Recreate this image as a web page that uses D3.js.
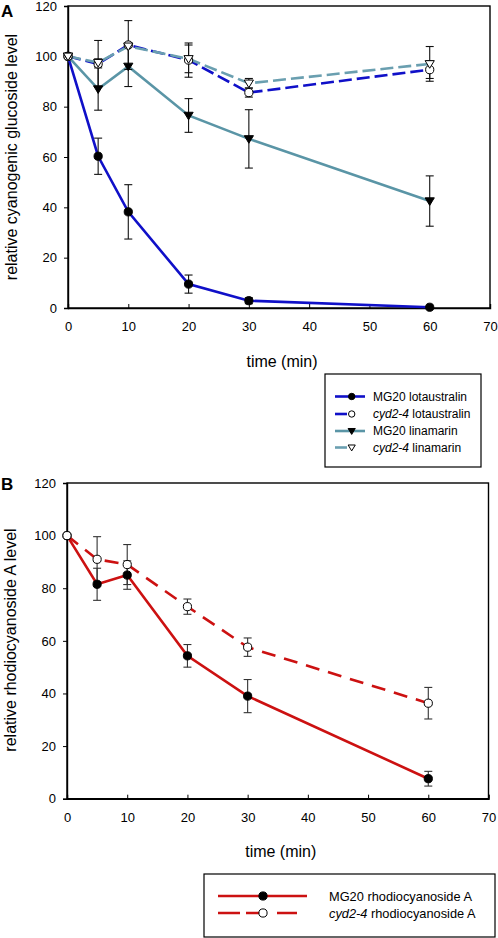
<!DOCTYPE html>
<html><head><meta charset="utf-8">
<script src="https://cdn.jsdelivr.net/npm/d3@7"></script>
<style>body{margin:0;background:#fff}svg{display:block;font-family:"Liberation Sans",Arial,sans-serif}</style>
</head><body>
<svg id="c" width="498" height="938"></svg>
<script>
// ---------- data ----------
const times = [0, 5, 10, 20, 30, 60];
const xTicks = [0, 10, 20, 30, 40, 50, 60, 70];
const yTicks = [0, 20, 40, 60, 80, 100, 120];

const mg20Lotaustralin     = [100, 60.3, 38.2, 9.5, 2.9, 0.3];
const mg20LotaustralinErr  = [0, 7.2, 10.8, 3.6, 1.2, 0];
const cydLotaustralin      = [100, 97, 104.5, 98.5, 85.6, 94.7];
const cydLotaustralinErr   = [0, 9.3, 9.7, 6.8, 1.8, 3.5];
const mg20Linamarin        = [100, 87, 96, 76.5, 67.2, 42.5];
const mg20LinamarinErr     = [0, 8.4, 8, 6.7, 11.6, 10];
const cydLinamarin         = [100, 97.5, 104, 99, 89.3, 97];
const cydLinamarinErr      = [0, 1.5, 0, 5.5, 1.9, 6.9];

const mg20Rhodio    = [100, 81.5, 85, 54.3, 39, 7.6];
const mg20RhodioErr = [0, 6.1, 5.4, 4.3, 6.3, 2.8];
const cydRhodio     = [100, 91, 89, 73, 57.6, 36.3];
const cydRhodioErr  = [0, 8.6, 7.6, 2.9, 3.5, 6];

const seriesA = [
  {name: "MG20 lotaustralin", it: false, values: mg20Lotaustralin, err: mg20LotaustralinErr, color: "#1010c8", dash: null, marker: "circle", fill: "#000"},
  {name: "cyd2-4 lotaustralin", it: true, values: cydLotaustralin, err: cydLotaustralinErr, color: "#1010c8", dash: "13,5", marker: "circle", fill: "#fff"},
  {name: "MG20 linamarin", it: false, values: mg20Linamarin, err: mg20LinamarinErr, color: "#5a95a6", dash: null, marker: "tri", fill: "#000"},
  {name: "cyd2-4 linamarin", it: true, values: cydLinamarin, err: cydLinamarinErr, color: "#6a9fb0", dash: "13,5", marker: "tri", fill: "#fff"}
];
const seriesB = [
  {name: "MG20 rhodiocyanoside A", it: false, values: mg20Rhodio, err: mg20RhodioErr, color: "#cc1111", dash: null, marker: "circle", fill: "#000"},
  {name: "cyd2-4 rhodiocyanoside A", it: true, values: cydRhodio, err: cydRhodioErr, color: "#cc1111", dash: "14,9", marker: "circle", fill: "#fff"}
];

const svg = d3.select("#c");

function drawMarker(g, type, x, y, fill, sc) {
  sc = sc || 1;
  if (type === "circle") {
    g.append("circle").attr("cx", x).attr("cy", y).attr("r", 4.1 * sc)
      .attr("fill", fill).attr("stroke", "#000").attr("stroke-width", 1);
  } else {
    const s = 4.6 * sc;
    g.append("path").attr("d", `M${x - s},${y - s * 0.7}L${x + s},${y - s * 0.7}L${x},${y + s * 0.95}Z`)
      .attr("fill", fill).attr("stroke", "#000").attr("stroke-width", 1);
  }
}

function panel(cfg) {
  const x = d3.scaleLinear().domain([0, 70]).range([cfg.left, cfg.right]);
  const y = d3.scaleLinear().domain([0, 120]).range([cfg.bottom, cfg.top]);
  const g = svg.append("g");

  // frame
  g.append("rect").attr("x", cfg.left).attr("y", cfg.top)
    .attr("width", cfg.right - cfg.left).attr("height", cfg.bottom - cfg.top)
    .attr("fill", "none").attr("stroke", "#000").attr("stroke-width", 1.4);

  const ax = g.append("g").attr("transform", `translate(0,${cfg.bottom})`)
    .call(d3.axisBottom(x).tickValues(xTicks).tickSize(-4).tickPadding(14));
  const ay = g.append("g").attr("transform", `translate(${cfg.left},0)`)
    .call(d3.axisLeft(y).tickValues(yTicks).tickSize(4).tickPadding(7));
  [ax, ay].forEach(a => {
    a.select(".domain").attr("stroke", "#000").attr("stroke-width", 1.4);
    a.selectAll(".tick line").attr("stroke", "#000");
    a.selectAll("text").attr("font-size", 13).attr("fill", "#000").attr("font-family", "Liberation Sans, Arial, sans-serif");
  });

  // axis titles
  g.append("text").attr("x", (cfg.left + cfg.right) / 2 + 3).attr("y", cfg.bottom + 58.5)
    .attr("text-anchor", "middle").attr("font-size", 16).text("time (min)");
  g.append("text").attr("transform", `translate(${cfg.ylx},${cfg.yly}) rotate(-90)`)
    .attr("text-anchor", "middle").attr("font-size", 16).text(cfg.ylabel);
  g.append("text").attr("x", 1).attr("y", cfg.letterY).attr("font-size", 17).attr("font-weight", "bold").text(cfg.letter);

  const line = d3.line().x((d, i) => x(times[i])).y(d => y(d));

  // lines
  cfg.series.forEach(s => {
    g.append("path").datum(s.values).attr("d", line).attr("fill", "none")
      .attr("stroke", s.color).attr("stroke-width", 2.6)
      .attr("stroke-dasharray", s.dash);
  });
  // error bars
  cfg.series.forEach(s => {
    s.values.forEach((v, i) => {
      const e = s.err[i];
      if (!e) return;
      const cx = x(times[i]);
      const eg = g.append("g").attr("stroke", cfg.errColor).attr("stroke-width", 1.1);
      eg.append("line").attr("x1", cx).attr("x2", cx).attr("y1", y(v - e)).attr("y2", y(v + e));
      eg.append("line").attr("x1", cx - 4).attr("x2", cx + 4).attr("y1", y(v - e)).attr("y2", y(v - e));
      eg.append("line").attr("x1", cx - 4).attr("x2", cx + 4).attr("y1", y(v + e)).attr("y2", y(v + e));
    });
  });
  // markers
  cfg.series.forEach(s => {
    s.values.forEach((v, i) => drawMarker(g, s.marker, x(times[i]), y(v), s.fill));
  });
}

panel({left: 68, right: 490, top: 6, bottom: 308, series: seriesA, letter: "A", letterY: 17, ylx: 17, yly: 157,
       errColor: "#111", ylabel: "relative cyanogenic glucoside level"});
panel({left: 67, right: 488.5, top: 483, bottom: 798.7, series: seriesB, letter: "B", letterY: 490, ylx: 16, yly: 640,
       errColor: "#333", ylabel: "relative rhodiocyanoside A level"});

function legendText(lg, s, x, y, fs) {
  const t = lg.append("text").attr("x", x).attr("y", y).attr("font-size", fs);
  if (s.it) {
    t.append("tspan").attr("font-style", "italic").text("cyd2-4");
    t.append("tspan").text(s.name.replace("cyd2-4", ""));
  } else t.text(s.name);
}

// legend A
{
  const lg = svg.append("g");
  lg.append("rect").attr("x", 325).attr("y", 374).attr("width", 156).attr("height", 93)
    .attr("fill", "#fff").attr("stroke", "#000").attr("stroke-width", 1.2);
  const rows = [396.5, 414, 431, 447.5];
  seriesA.forEach((s, i) => {
    const yy = rows[i];
    lg.append("line").attr("x1", 335).attr("x2", 365).attr("y1", yy).attr("y2", yy)
      .attr("stroke", s.color).attr("stroke-width", 2.6)
      .attr("stroke-dasharray", s.dash ? "12,30" : null);
    drawMarker(lg, s.marker, 351.7, yy, s.fill, 0.78);
    legendText(lg, s, 373, yy + 4.3, 12);
  });
}
// legend B
{
  const lg = svg.append("g");
  lg.append("rect").attr("x", 204).attr("y", 874).attr("width", 291).attr("height", 63)
    .attr("fill", "#fff").attr("stroke", "#000").attr("stroke-width", 1.2);
  const rows = [896, 913];
  seriesB.forEach((s, i) => {
    const yy = rows[i];
    lg.append("line").attr("x1", 218).attr("x2", 307).attr("y1", yy).attr("y2", yy)
      .attr("stroke", s.color).attr("stroke-width", 2.6)
      .attr("stroke-dasharray", s.dash ? "22,6,13,18,20,20" : null);
    drawMarker(lg, s.marker, 263, yy, s.fill);
    legendText(lg, s, 329, yy + 4.5, 12.8);
  });
}
</script>
</body></html>
